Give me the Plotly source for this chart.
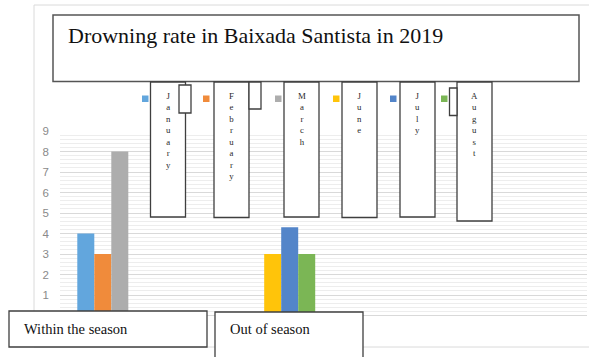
import plotly.graph_objects as go

# ---- data ----
categories = ["Within the season", "Out of season"]
months = ["January", "February", "March", "June", "July", "August"]
month_category = ["Within the season", "Within the season", "Within the season",
                  "Out of season", "Out of season", "Out of season"]
rates = [4, 3, 8, 3, 4.3, 3]
colors = ["#62A6DD", "#F08B3B", "#ADADAD", "#FFC40A", "#5385C9", "#7BB655"]
y_ticks = list(range(0, 10))

FW, FH = 589, 357


def px(x):
    return x / FW


def py(y):
    return 1 - y / FH


fig = go.Figure()

# bars: three per category, side by side, through the category axis
bar_w = 0.091
slot_count = {}
for name, cat, val, col in zip(months, month_category, rates, colors):
    slot = slot_count.get(cat, 0)
    slot_count[cat] = slot + 1
    fig.add_trace(go.Bar(
        x=[cat], y=[val], name=name,
        marker=dict(color=col, line=dict(width=0)),
        width=bar_w, offset=(slot - 1.5) * bar_w,
        showlegend=False, hoverinfo="x+y+name",
    ))

shapes = []
annotations = []

# outer frame of the chart area
shapes.append(dict(type="rect", xref="paper", yref="paper",
                   x0=px(34), x1=px(592), y0=py(347), y1=py(5),
                   line=dict(color="#DADADA", width=1), layer="below"))

box_line = dict(color="#3F3F3F", width=1.3)


def box(x0, y0, x1, y1, line=box_line):
    shapes.append(dict(type="rect", xref="paper", yref="paper",
                       x0=px(x0), x1=px(x1), y0=py(y1), y1=py(y0),
                       line=line, fillcolor="white", layer="above"))


# title box
box(53, 15, 579, 81.5, dict(color="#555555", width=1.5))
annotations.append(dict(text="Drowning rate in Baixada Santista in 2019",
                        xref="paper", yref="paper", x=px(66), y=py(36),
                        xanchor="left", yanchor="middle", showarrow=False,
                        font=dict(family="Liberation Serif", size=22, color="#111111")))

# legend keys
legend_x = [142, 203, 275, 333, 390, 441]
for lx, col in zip(legend_x, colors):
    shapes.append(dict(type="rect", xref="paper", yref="paper",
                       x0=px(lx), x1=px(lx + 6.5), y0=py(102), y1=py(95.5),
                       line=dict(width=0), fillcolor=col, layer="above"))

# vertical month label boxes
month_boxes = [(150.5, 185.5, 217), (214, 249, 217.5), (284, 319, 217),
               (342, 377, 217.5), (400, 435, 217), (457, 492, 221)]
for name, (x0, x1, y1) in zip(months, month_boxes):
    box(x0, 82, x1, y1)
    annotations.append(dict(text="<br>".join(name), xref="paper", yref="paper",
                            x=px((x0 + x1) / 2), y=py(89), xanchor="center",
                            yanchor="top", showarrow=False,
                            font=dict(family="Liberation Serif", size=8.8, color="#2A2A2A")))

# small empty boxes beside the month labels
box(179, 85, 191, 113)
box(249, 82, 261, 109)
box(449.5, 88, 457, 115.5)

# category boxes at the bottom
box(9, 311, 207, 347)
annotations.append(dict(text=categories[0], xref="paper", yref="paper",
                        x=px(22), y=py(328.5), xanchor="left", yanchor="middle",
                        showarrow=False,
                        font=dict(family="Liberation Serif", size=14.5, color="#111111")))
box(215, 312, 363, 362)
annotations.append(dict(text=categories[1], xref="paper", yref="paper",
                        x=px(228), y=py(328.5), xanchor="left", yanchor="middle",
                        showarrow=False,
                        font=dict(family="Liberation Serif", size=14.5, color="#111111")))

# map category index to pixels: centre of first group at 102.8, spacing 186.9 px
x_lo = (60 - 102.8) / 186.9
x_hi = (587 - 102.8) / 186.9

fig.update_layout(
    width=FW, height=FH,
    margin=dict(l=0, r=0, t=0, b=0),
    paper_bgcolor="white", plot_bgcolor="white",
    barmode="overlay",
    shapes=shapes, annotations=annotations,
    xaxis=dict(type="category", categoryorder="array", categoryarray=categories,
               domain=[px(60), px(587)], range=[x_lo, x_hi],
               showticklabels=False, showgrid=False, zeroline=False,
               showline=False, ticks="", automargin=False, fixedrange=True),
    yaxis=dict(domain=[py(315.5), py(131)], range=[0, 9],
               tickvals=y_ticks, ticktext=[str(v) for v in y_ticks],
               tickfont=dict(family="Liberation Sans", size=11.5, color="#8A8A8A"),
               ticks="", ticklabelstandoff=10,
               showgrid=True, gridcolor="#D9D9D9", gridwidth=1,
               minor=dict(dtick=0.2, showgrid=True, gridcolor="#EDEDED", gridwidth=1),
               zeroline=True, zerolinecolor="#D9D9D9", zerolinewidth=1,
               showline=False, automargin=False, fixedrange=True),
)

fig.write_html("out.html")
